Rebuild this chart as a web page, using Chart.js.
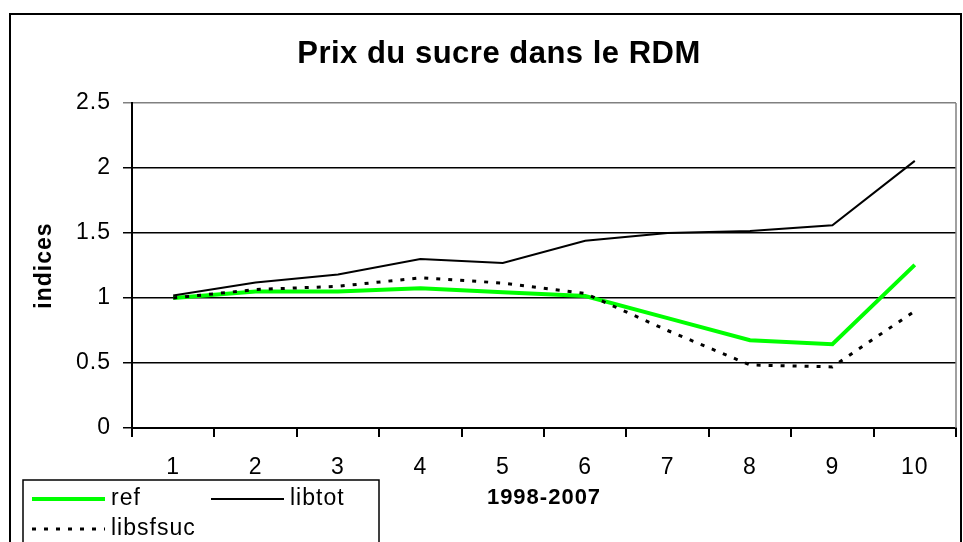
<!DOCTYPE html>
<html>
<head>
<meta charset="utf-8">
<script src="https://cdn.jsdelivr.net/npm/chart.js@4/dist/chart.umd.min.js"></script>
<style>
html,body{margin:0;padding:0;background:#fff;}
#wrap{width:963px;height:542px;position:relative;}
</style>
</head>
<body>
<div id="wrap"><canvas id="c" width="963" height="542"></canvas></div>
<script>
const categories = ['1','2','3','4','5','6','7','8','9','10'];
const refValues = [1.00, 1.05, 1.05, 1.075, 1.045, 1.015, 0.845, 0.675, 0.645, 1.255];
const libtotValues = [1.02, 1.12, 1.18, 1.30, 1.27, 1.44, 1.50, 1.515, 1.56, 2.055];
const libsfsucValues = [1.00, 1.065, 1.09, 1.155, 1.115, 1.035, 0.75, 0.485, 0.47, 0.90];
const seriesNames = ['ref', 'libtot', 'libsfsuc'];
const chartTitle = 'Prix du sucre dans le RDM';
const yTitle = 'indices';
const xTitle = '1998-2007';

const FONT = 'Liberation Sans, Arial, sans-serif';

const frameAndLegend = {
  id: 'frameAndLegend',
  beforeDraw(chart) {
    const ctx = chart.ctx;
    ctx.save();
    ctx.fillStyle = '#fff';
    ctx.fillRect(0, 0, chart.width, chart.height);
    ctx.restore();
    try { ctx.letterSpacing = '1px'; } catch (e) {}
  },
  afterDraw(chart) {
    const ctx = chart.ctx;
    const a = chart.chartArea;
    ctx.save();
    // chart title
    try { ctx.letterSpacing = '0.5px'; } catch (e) {}
    ctx.fillStyle = '#000';
    ctx.font = 'bold 31px ' + FONT;
    ctx.textAlign = 'center';
    ctx.textBaseline = 'middle';
    ctx.fillText(chartTitle, 499, 54);
    try { ctx.letterSpacing = '1px'; } catch (e) {}
    // plot area right border (gray)
    ctx.strokeStyle = '#808080';
    ctx.lineWidth = 1.5;
    ctx.beginPath();
    ctx.moveTo(a.right, a.top);
    ctx.lineTo(a.right, a.bottom);
    ctx.stroke();
    // outer chart frame
    ctx.strokeStyle = '#000';
    ctx.lineWidth = 2;
    ctx.strokeRect(10, 14, 951, 600);
    // legend box
    const lx = 23, ly = 480, lw = 356, lh = 100;
    ctx.fillStyle = '#fff';
    ctx.fillRect(lx, ly, lw, lh);
    ctx.strokeStyle = '#000';
    ctx.lineWidth = 1.5;
    ctx.strokeRect(lx, ly, lw, lh);
    const ds = chart.data.datasets;
    const items = [
      {d: ds[0], x: 32, y: 499},
      {d: ds[1], x: 211, y: 499},
      {d: ds[2], x: 32, y: 529}
    ];
    ctx.font = '23px ' + FONT;
    ctx.textBaseline = 'middle';
    ctx.textAlign = 'left';
    items.forEach(it => {
      ctx.save();
      ctx.strokeStyle = it.d.borderColor;
      ctx.lineWidth = it.d.borderWidth;
      ctx.setLineDash(it.d.borderDash || []);
      ctx.beginPath();
      ctx.moveTo(it.x, it.y);
      ctx.lineTo(it.x + 73, it.y);
      ctx.stroke();
      ctx.restore();
      ctx.fillStyle = '#000';
      ctx.fillText(it.d.label, it.x + 79, it.y);
    });
    ctx.restore();
  }
};

new Chart(document.getElementById('c'), {
  type: 'line',
  data: {
    labels: categories,
    datasets: [
      {label: seriesNames[0], data: refValues, borderColor: '#00ff00', borderWidth: 4, pointRadius: 0, tension: 0, fill: false, order: 3},
      {label: seriesNames[1], data: libtotValues, borderColor: '#000000', borderWidth: 2, pointRadius: 0, tension: 0, fill: false, order: 2},
      {label: seriesNames[2], data: libsfsucValues, borderColor: '#000000', borderWidth: 3, borderDash: [4, 8], pointRadius: 0, tension: 0, fill: false, order: 1}
    ]
  },
  options: {
    responsive: false,
    animation: false,
    layout: {padding: {left: 0, right: 7, top: 103, bottom: 0}},
    plugins: {
      legend: {display: false},
      tooltip: {enabled: false},
      title: {display: false}
    },
    scales: {
      x: {
        offset: true,
        grid: {offset: true, drawOnChartArea: false, drawTicks: true, tickLength: 9, color: '#000', lineWidth: 2},
        border: {display: true, color: '#000', width: 2},
        ticks: {color: '#000', font: {family: FONT, size: 23}, padding: 17, maxRotation: 0, autoSkip: false},
        title: {display: true, text: xTitle, color: '#000', font: {family: FONT, size: 22, weight: 'bold', lineHeight: 1.2}, padding: {top: 0, bottom: 31}},
        afterFit(scale) { scale.height = 114; }
      },
      y: {
        min: 0,
        max: 2.5,
        grid: {
          color: (c) => (c.tick && c.tick.value === 2.5) ? '#808080' : '#000',
          lineWidth: 1.5,
          drawTicks: true,
          tickLength: 9
        },
        border: {display: true, color: '#000', width: 2},
        ticks: {
          stepSize: 0.5,
          color: '#000',
          font: {family: FONT, size: 23},
          padding: 12,
          callback: (v) => String(v)
        },
        title: {display: true, text: yTitle, color: '#000', font: {family: FONT, size: 23, weight: 'bold', lineHeight: 1.2}, padding: {top: 31, bottom: 0}},
        afterFit(scale) { scale.width = 132; }
      }
    }
  },
  plugins: [frameAndLegend]
});
</script>
</body>
</html>
